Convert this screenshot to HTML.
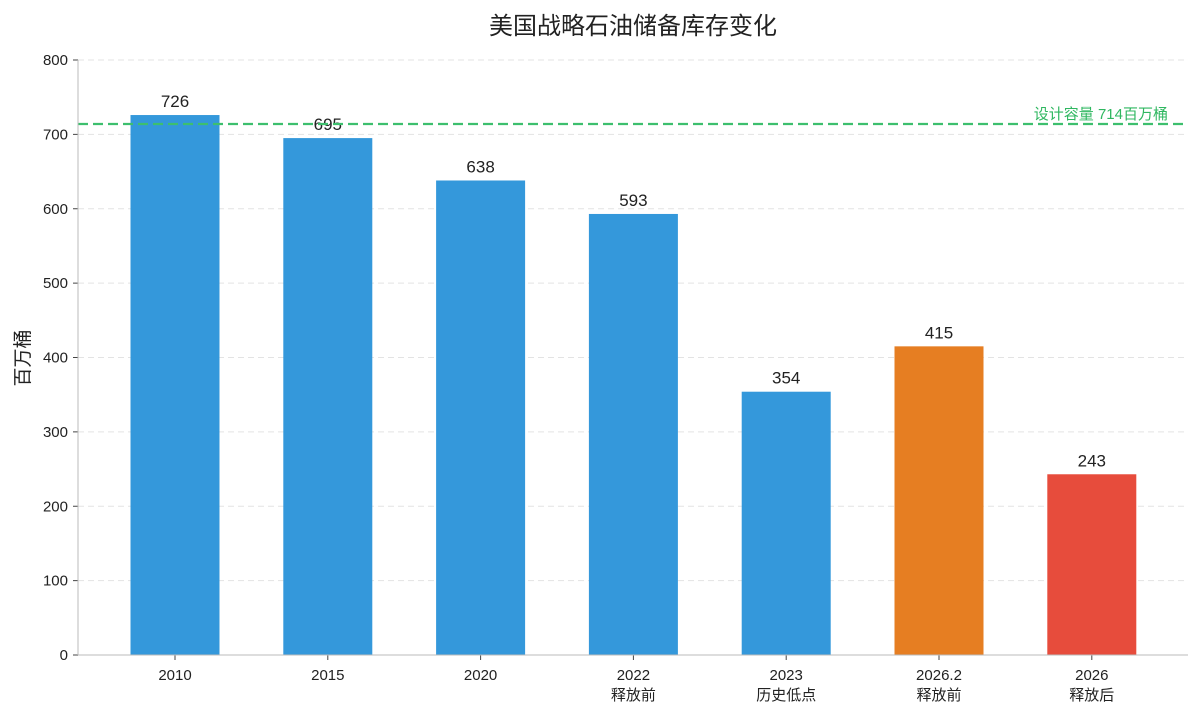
<!DOCTYPE html>
<html><head><meta charset="utf-8"><style>
body{margin:0;background:#fff;}
svg{display:block;font-family:"Liberation Sans","Noto Sans CJK SC",sans-serif;}
</style></head><body>
<svg id="chart" width="1200" height="715">
<text x="633" y="34" text-anchor="middle" font-size="24" fill="#222">美国战略石油储备库存变化</text>
<g id="grid"></g>
<g id="bars"></g>
<g id="axes"></g>
<text x="0" y="0" transform="translate(29,358) rotate(-90)" text-anchor="middle" font-size="19" fill="#222">百万桶</text>
</svg>
<script>
const categories=["2010","2015","2020","2022\n释放前","2023\n历史低点","2026.2\n释放前","2026\n释放后"];
const values=[726,695,638,593,354,415,243];
const colors=["#3498db","#3498db","#3498db","#3498db","#3498db","#e67e22","#e74c3c"];
const yTicks=[0,100,200,300,400,500,600,700,800];
const capacity=714;
const capacityLabel="设计容量 714百万桶";
const NS="http://www.w3.org/2000/svg";
const x0=78,x1=1188,y0=655,y1=60,yMax=800;
const y=v=>y0-(v/yMax)*(y0-y1);
const slot=152.8;
const xc=i=>175+i*slot;
const bw=89;
function mk(t,a,p){const e=document.createElementNS(NS,t);for(const k in a)e.setAttribute(k,a[k]);p.appendChild(e);return e;}
const grid=document.getElementById('grid'),bars=document.getElementById('bars'),axes=document.getElementById('axes');
yTicks.forEach(t=>{
  if(t>0){const l=mk('line',{x1:x0,x2:x1,y1:y(t),y2:y(t),stroke:'#e3e3e3','stroke-dasharray':'6,4'},grid);
  
  }
  const tk=mk('line',{x1:x0-5,x2:x0,y1:y(t),y2:y(t),stroke:'#444'},axes);
  
  
  const tx=mk('text',{x:x0-10,y:y(t)+5,'text-anchor':'end','font-size':15,fill:'#222'},axes);
  tx.textContent=t;
  
  
});
values.forEach((v,i)=>{
  const r=mk('rect',{x:xc(i)-bw/2,y:y(v),width:bw,height:y0-y(v),fill:colors[i]},bars);
  
  
  const t=mk('text',{x:xc(i),y:y(v)-8,'text-anchor':'middle','font-size':17,fill:'#222'},bars);
  t.textContent=v;
  
  
  categories[i].split('\n').forEach((s,j)=>{
    const c=mk('text',{x:xc(i),y:680+j*20,'text-anchor':'middle','font-size':15,fill:'#222'},axes);
    c.textContent=s;
    
    
  });
  const tk=mk('line',{x1:xc(i),x2:xc(i),y1:y0,y2:y0+5,stroke:'#444'},axes);
  
  
});
const cl=mk('line',{x1:x0,x2:x1,y1:y(capacity),y2:y(capacity),stroke:'#3dbf6e','stroke-width':2.2,'stroke-dasharray':'10,5'},bars);


const ct=mk('text',{x:1168,y:y(capacity)-5,'text-anchor':'end','font-size':15,fill:'#2fb760'},bars);
ct.textContent=capacityLabel;


const ya=mk('line',{x1:x0,x2:x0,y1:y1,y2:y0,stroke:'#bbb'},axes);


const xa=mk('line',{x1:x0,x2:x1,y1:y0,y2:y0,stroke:'#bbb'},axes);


</script>
</body></html>
